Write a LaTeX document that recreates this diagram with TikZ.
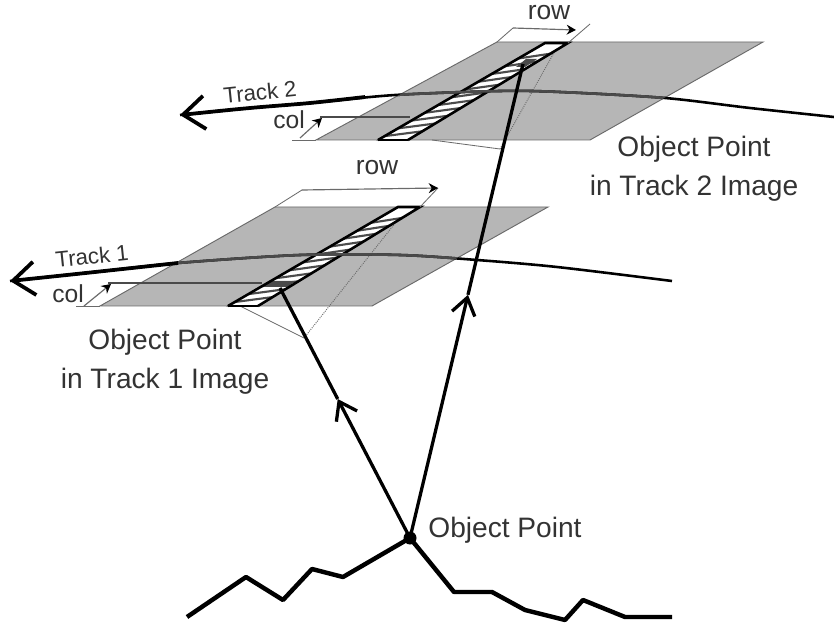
\documentclass[tikz,border=0pt]{standalone}
\usepackage{fontspec}
\setmainfont{Liberation Sans}
\usepackage{xcolor}
\usetikzlibrary{calc,arrows.meta,positioning}
\definecolor{planegray}{HTML}{B6B6B6}
\definecolor{trackgray}{HTML}{4A4A4A}
\definecolor{textgray}{HTML}{333333}
\definecolor{thingray}{HTML}{6A6A6A}
\newcommand{\trackone}{plot[smooth] coordinates {(10,281) (95,272) (178,263) (300,255) (400,255) (477,260) (557,267) (672,281)}}
\newcommand{\tracktwo}{plot[smooth] coordinates {(180,115) (250,108) (310,103) (395,95) (500,91) (560,92) (665,98) (750,108) (834,117)}}

\begin{document}
\begin{tikzpicture}[x=0.03cm,y=-0.03cm,
    plane/.style={fill=planegray, draw=thingray, line width=0.8pt},
    strip/.style={fill=white, draw=black, line width=0.8pt},
    stripedge/.style={black, line width=2.2pt},
    bar/.style={black!70, line width=1.8pt},
    cell/.style={fill=trackgray, draw=none},
    thinline/.style={thingray, line width=0.7pt},
    sight/.style={thingray, line width=0.8pt, densely dotted},
    track/.style={black, line width=2.2pt},
    trackhead/.style={black, line width=3.2pt, {Straight Barb[length=6.5mm,width=10mm]}-},
    ray/.style={black, line width=2.8pt},
    rayhead/.style={-{Straight Barb[length=5mm,width=7mm]}},
    ground/.style={black, line width=3.8pt, line join=round},
    biglabel/.style={textgray, font=\fontsize{24}{33}\selectfont, align=center},
    dimlabel/.style={textgray, font=\fontsize{22.5}{26}\selectfont},
    collabel/.style={textgray, font=\fontsize{21}{25}\selectfont},
    tracklabel/.style={textgray, rotate=6, font=\fontsize{19}{23}\selectfont},
    dim/.style={thingray, line width=1pt, -{Stealth[length=2.8mm,width=3mm,black]}}
]
    \useasboundingbox[fill=white] (0,0) rectangle (834,623);

    % Track 1 plane
    \coordinate (A1) at (100,306);
    \coordinate (B1) at (372,306);
    \coordinate (C1) at (548,207);
    \coordinate (D1) at (275,207);
    \filldraw[plane] (A1) -- (B1) -- (C1) -- (D1) -- cycle;
    \draw[trackgray, line width=0.9pt] (108,283) -- (262,283);

    % Track 2 plane
    \coordinate (A2) at (316,140);
    \coordinate (B2) at (590,140);
    \coordinate (C2) at (763,42);
    \coordinate (D2) at (497,42);
    \filldraw[plane] (A2) -- (B2) -- (C2) -- (D2) -- cycle;
    \draw[trackgray, line width=0.9pt] (320,117) -- (410,117);

    % Sight lines below the planes
    \coordinate (apex1) at (304,338);
    \coordinate (apex2) at (500,149);
    \draw[thinline] (240,306) -- (apex1);
    \draw[sight] (apex1) -- (408,207);
    \draw[thinline] (432,140) -- (apex2);
    \draw[sight] (apex2) -- (560,42);

    % Scan strip in track 1
    \coordinate (S1a) at (228,306);
    \coordinate (S1b) at (258,306);
    \coordinate (S1c) at (420,207);
    \coordinate (S1d) at (398,207);
    \filldraw[strip] (S1a) -- (S1b) -- (S1c) -- (S1d) -- cycle;
    \foreach \t in {0.04,0.12,...,0.92}
        \draw[bar] ($(S1a)!\t!(S1d)$) -- ($(S1b)!\t+0.05!(S1c)$);
    \fill[cell] (262,287) -- (287,287) -- (296,281) -- (272,281) -- cycle;
    \draw[stripedge] (S1a) -- (S1d) -- (S1c) -- (S1b);
    \draw[stripedge] (S1a) -- (S1b);

    % Scan strip in track 2
    \coordinate (S2a) at (378,140);
    \coordinate (S2b) at (408,140);
    \coordinate (S2c) at (568,43);
    \coordinate (S2d) at (545,43);
    \filldraw[strip] (S2a) -- (S2b) -- (S2c) -- (S2d) -- cycle;
    \foreach \t in {0.04,0.12,...,0.92}
        \draw[bar] ($(S2a)!\t!(S2d)$) -- ($(S2b)!\t+0.05!(S2c)$);
    \fill[cell] (516,67) -- (525,67) -- (537,59) -- (526,59) -- cycle;
    \draw[stripedge] (S2a) -- (S2d) -- (S2c) -- (S2b);
    \draw[stripedge] (S2a) -- (S2b);

    % Tracks
    \draw[track] \trackone;
    \draw[track] \tracktwo;
    \begin{scope}
        \clip (A1) -- (B1) -- (C1) -- (D1) -- cycle;
        \draw[track, trackgray] \trackone;
    \end{scope}
    \begin{scope}
        \clip (A2) -- (B2) -- (C2) -- (D2) -- cycle;
        \draw[track, trackgray] \tracktwo;
    \end{scope}
    \draw[trackhead] plot[smooth] coordinates {(10,281) (95,272) (178,263)};
    \draw[trackhead] plot[smooth] coordinates {(180,115) (250,108) (310,103) (365,97)};

    % Rays from the object point
    \coordinate (object) at (410,538);
    \coordinate (cell1) at (280,288);
    \coordinate (cell2) at (523,64);
    \coordinate (mid1) at ($(object)!0.556!(cell1)$);
    \coordinate (mid2) at ($(object)!0.513!(cell2)$);
    \draw[ray, rayhead] (object) -- (mid1);
    \draw[ray] (mid1) -- (cell1);
    \draw[ray, rayhead] (object) -- (mid2);
    \draw[ray] (mid2) -- (cell2);

    % Ground profile
    \draw[ground] (187,617) -- (246,577) -- (283,600) -- (312,569) -- (343,577) -- (object)
        -- (454,592) -- (492,592) -- (525,610) -- (565,620) -- (583,600) -- (625,617) -- (672,617);
    \fill[black] (object) circle (6.5);

    % row and col markers
    \coordinate (row1a) at (302,190);
    \coordinate (row1b) at (438,188);
    \draw[thinline] (D1) -- (row1a);
    \draw[thinline] (S1c) -- (row1b);
    \draw[dim] (row1a) -- (row1b);
    \coordinate (row2a) at (513,28);
    \coordinate (row2b) at (576,30);
    \draw[thinline] (D2) -- (row2a);
    \draw[thinline] (S2c) -- (590,24);
    \draw[dim] (row2a) -- (row2b);
    \coordinate (col1a) at (84,306);
    \coordinate (col1b) at (111,284);
    \draw[thinline] (76,306) -- (A1);
    \draw[dim] (col1a) -- (col1b);
    \coordinate (col2a) at (300,138);
    \coordinate (col2b) at (322,118);
    \draw[thinline] (292,140) -- (A2);
    \draw[dim] (col2a) -- (col2b);

    % Labels
    \node[dimlabel] (rowlabel1) at (377,168) {row};
    \node[dimlabel] (rowlabel2) at (549,13) {row};
    \node[collabel] (collabel1) at (68,294) {col};
    \node[collabel] (collabel2) at (289,120) {col};
    \node[tracklabel] (tracklabel1) at (92,256) {Track 1};
    \node[tracklabel] (tracklabel2) at (260,92) {Track 2};
    \node[biglabel] (imagelabel1) at (165,362) {Object Point\\in Track 1 Image};
    \node[biglabel] (imagelabel2) at (694,169) {Object Point\\in Track 2 Image};
    \node[biglabel] (objectlabel) at (505,530) {Object Point};

\end{tikzpicture}
\end{document}
